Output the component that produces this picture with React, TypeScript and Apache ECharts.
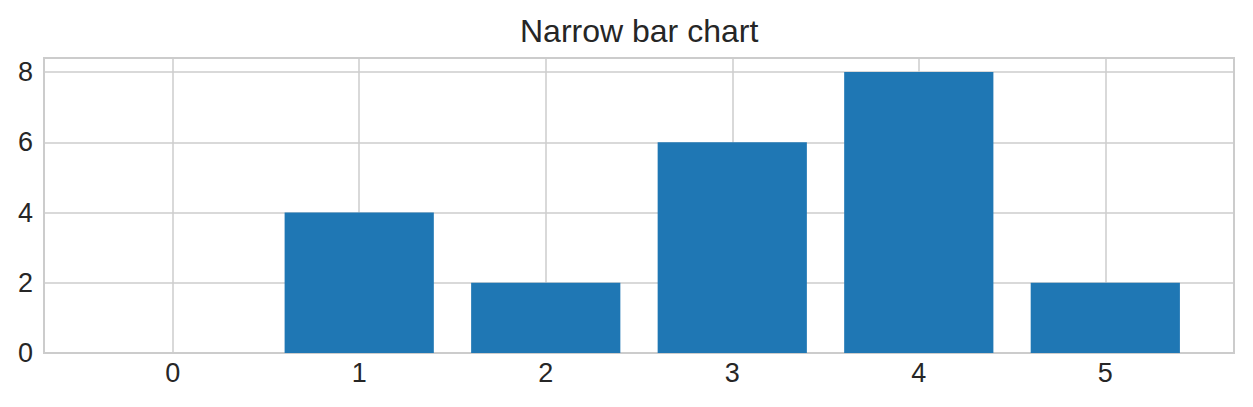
import React, { useEffect, useRef } from "react";
import * as echarts from "echarts";

const categories = [0, 1, 2, 3, 4, 5];
const values = [0, 4, 2, 6, 8, 2];
const yTicks = [0, 2, 4, 6, 8];
const barWidthUnits = 0.8;

export default function App() {
  const ref = useRef<HTMLDivElement>(null);
  useEffect(() => {
    if (!ref.current) return;
    const chart = echarts.init(ref.current, undefined, { renderer: "svg" });
    const font = "'Liberation Sans', Arial, sans-serif";
    const data = categories.map((c, i) => [c, values[i]]);
    chart.setOption({
      animation: false,
      backgroundColor: "#ffffff",
      title: {
        text: "Narrow bar chart",
        left: 515,
        top: 10,
        textStyle: { fontFamily: font, fontSize: 32, fontWeight: "normal", color: "#262626" },
      },
      grid: {
        left: 44,
        right: 19,
        top: 58,
        bottom: 54,
        show: true,
        borderColor: "#cccccc",
        borderWidth: 2,
        backgroundColor: "transparent",
      },
      xAxis: {
        type: "value",
        min: -0.69,
        max: 5.69,
        minInterval: 1,
        maxInterval: 1,
        axisLine: { show: false },
        axisTick: { show: false },
        axisLabel: {
          showMinLabel: false,
          showMaxLabel: false,
          margin: 6,
          fontFamily: font,
          fontSize: 27,
          color: "#262626",
          formatter: (v: number) => (categories.includes(v) ? String(v) : ""),
        },
        splitLine: { show: true, lineStyle: { color: "#cccccc", width: 1.5 } },
      },
      yAxis: {
        type: "value",
        min: 0,
        max: 8.4,
        interval: 2,
        axisLine: { show: false },
        axisTick: { show: false },
        axisLabel: {
          showMaxLabel: false,
          margin: 11,
          fontFamily: font,
          fontSize: 27,
          color: "#262626",
          formatter: (v: number) => (yTicks.includes(v) ? String(v) : ""),
        },
        splitLine: { show: true, lineStyle: { color: "#cccccc", width: 1.5 } },
      },
      series: [
        {
          type: "custom",
          data,
          encode: { x: 0, y: 1 },
          renderItem: (params: any, api: any) => {
            const x = api.value(0);
            const y = api.value(1);
            const p1 = api.coord([x - barWidthUnits / 2, y]);
            const p2 = api.coord([x + barWidthUnits / 2, 0]);
            return {
              type: "rect",
              shape: { x: p1[0], y: p1[1], width: p2[0] - p1[0], height: p2[1] - p1[1] },
              style: { fill: "#1f77b4" },
            };
          },
        },
      ],
    });
    return () => chart.dispose();
  }, []);
  return (
    <div
      ref={ref}
      style={{ position: "fixed", left: 0, top: 0, width: 1253, height: 407 }}
    />
  );
}
